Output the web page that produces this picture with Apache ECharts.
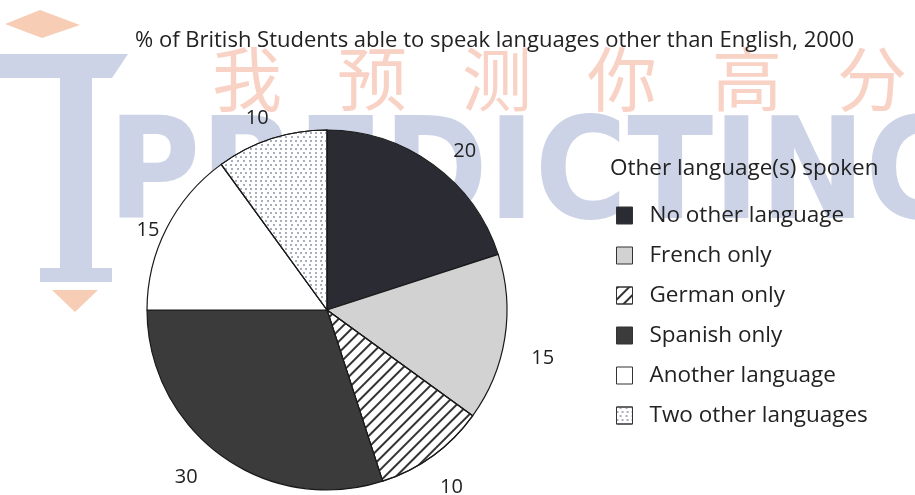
<!DOCTYPE html>
<html>
<head>
<meta charset="utf-8">
<script src="https://cdn.jsdelivr.net/npm/echarts@6/dist/echarts.min.js"></script>
<style>
html, body { margin: 0; padding: 0; background: #fff; }
#main { width: 915px; height: 495px; }
</style>
</head>
<body>
<div id="main"></div>
<script>
// data
var categories = ['No other language', 'French only', 'German only', 'Spanish only', 'Another language', 'Two other languages'];
var values = [20, 15, 10, 30, 15, 10];
var chartTitle = '% of British Students able to speak languages other than English, 2000';
var legendTitle = 'Other language(s) spoken';

var font = '"Open Sans", "Noto Sans", sans-serif';
var ink = '#222';
var pieCenter = [327, 310], pieRadius = 180, outerRing = 240;

// fills: solid greys, hatching and dots
var fills = [
    { color: '#2b2c33' },
    { color: '#d2d2d2' },
    { color: '#fff', decal: { symbol: 'rect', color: '#333', dashArrayX: [1, 0], dashArrayY: [1.2, 5.5], rotation: -Math.PI / 4 } },
    { color: '#3b3b3b' },
    { color: '#fff' },
    { color: '#fff', decal: { symbol: 'circle', color: '#8d93a3', symbolSize: 1, dashArrayX: [[2, 3], [0, 2.5, 2, 0.5]], dashArrayY: [2, 2] } }
];
// the original places its numbers by hand: distance from centre (px) and turn from mid-angle (deg)
var labelDist = [210, 221, 217, 219, 196, 204];
var labelTurn = [5, 3.5, 1, 4, -3, -2];

var total = values.reduce(function (a, b) { return a + b; }, 0);

// label points on a polar grid laid over the pie: [radius, angle value]
var labelPoints = [];
values.reduce(function (acc, v, i) {
    labelPoints.push([labelDist[i], acc + v / 2 + labelTurn[i] / 360 * total]);
    return acc + v;
}, 0);

var myChart = echarts.init(document.getElementById('main'), null, { renderer: 'canvas' });

// watermark pieces (decoration only, kept behind the pie)
var wmBlue = '#ccd3e6', wmOrange = '#f7cdb6';
var watermark = [{
    type: 'polygon', z: 0,
    shape: { points: [[0, 54], [128, 54], [112, 78], [92, 78], [92, 268], [112, 268], [112, 282], [40, 282], [40, 268], [60, 268], [60, 78], [0, 78]] },
    style: { fill: wmBlue }
}, {
    type: 'text', z: 0,
    left: 108, top: 112,
    style: { text: 'PREDICTING', font: 'bold 140px "DejaVu Sans Condensed", sans-serif', fill: wmBlue }
}, {
    type: 'polygon', z: 0,
    shape: { points: [[5, 24], [40, 10], [80, 25], [42, 38]] },
    style: { fill: wmOrange }
}, {
    type: 'polygon', z: 0,
    shape: { points: [[52, 290], [98, 290], [75, 312]] },
    style: { fill: wmOrange }
}];
'我预测你高分'.split('').forEach(function (c, i) {
    watermark.push({
        type: 'text', z: 0,
        left: 212 + i * 125, top: 44,
        style: { text: c, font: '70px "Noto Sans CJK SC", sans-serif', fill: '#f9d2c6' }
    });
});

var option = {
    backgroundColor: '#fff',
    animation: false,
    title: [{
        text: chartTitle,
        left: 130, top: 25,
        textStyle: { fontFamily: font, fontSize: 22, fontWeight: 'normal', color: ink }
    }, {
        text: legendTitle,
        left: 605, top: 152,
        textStyle: { fontFamily: font, fontSize: 22.5, fontWeight: 'normal', color: ink }
    }],
    legend: {
        orient: 'vertical',
        left: 611, top: 199,
        itemWidth: 16, itemHeight: 17, itemGap: 17,
        icon: 'rect',
        itemStyle: { borderColor: '#333', borderWidth: 1 },
        textStyle: { fontFamily: font, fontSize: 22.5, lineHeight: 22, color: ink, padding: [0, 0, 0, 12] },
        data: categories
    },
    polar: { center: pieCenter, radius: outerRing },
    angleAxis: {
        type: 'value', min: 0, max: total, startAngle: 90, clockwise: true,
        axisLine: { show: false }, axisTick: { show: false }, axisLabel: { show: false }, splitLine: { show: false }
    },
    radiusAxis: {
        type: 'value', min: 0, max: outerRing,
        axisLine: { show: false }, axisTick: { show: false }, axisLabel: { show: false }, splitLine: { show: false }
    },
    series: [{
        type: 'pie',
        center: pieCenter,
        radius: pieRadius,
        startAngle: 90,
        clockwise: true,
        silent: true,
        itemStyle: { borderColor: '#1a1a1a', borderWidth: 1.2 },
        label: { show: false },
        labelLine: { show: false },
        data: categories.map(function (name, i) {
            return { name: name, value: values[i], itemStyle: fills[i] };
        })
    }, {
        // the slice numbers
        type: 'scatter',
        coordinateSystem: 'polar',
        symbolSize: 0,
        silent: true,
        z: 5,
        itemStyle: { opacity: 1 },
        label: {
            show: true,
            position: 'inside',
            formatter: function (p) { return String(values[p.dataIndex]); },
            fontFamily: font, fontSize: 20, color: ink, opacity: 1
        },
        data: labelPoints
    }],
    graphic: watermark
};

myChart.setOption(option);
</script>
</body>
</html>
